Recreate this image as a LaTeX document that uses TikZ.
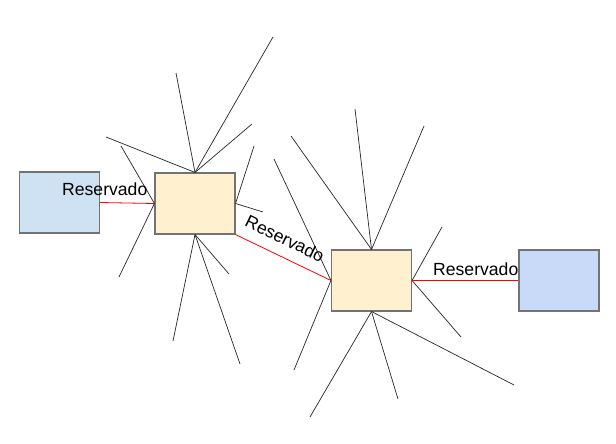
\documentclass[tikz,border=0pt]{standalone}
\usepackage{fontspec}
\setmainfont{Liberation Sans}
\begin{document}
\begin{tikzpicture}[x=1pt,y=-1pt,
  box/.style={draw=black!55,line width=1.1pt,minimum width=80pt,minimum height=61pt,inner sep=0pt},
  spoke/.style={draw=black!85,line width=0.7pt},
  link/.style={draw=red,line width=0.8pt},
  lbl/.style={font=\fontsize{17.6}{20}\selectfont,inner sep=0pt}]
\useasboundingbox (0,0) rectangle (616,444);
\definecolor{lblue}{HTML}{CFE2F3}
\definecolor{rblue}{HTML}{C9DAF8}
\definecolor{yel}{HTML}{FFF0CF}
\node[box,fill=lblue] (L) at (59.5,202.5) {};
\node[box,fill=yel] (A) at (195,203.5) {};
\node[box,fill=yel] (B) at (371.5,280.5) {};
\node[box,fill=rblue] (R) at (559,280.5) {};
% spoke ends around A
\coordinate (a1) at (273,37);
\coordinate (a2) at (176,73);
\coordinate (a3) at (252,124);
\coordinate (a4) at (106,137);
\coordinate (a5) at (121,146);
\coordinate (a6) at (119,277);
\coordinate (a7) at (254,146);
\coordinate (a8) at (263,212);
\coordinate (a9) at (173,341);
\coordinate (a10) at (240,364);
\coordinate (a11) at (229,274);
% spoke ends around B
\coordinate (b1) at (355,109);
\coordinate (b2) at (424,126);
\coordinate (b3) at (291,136);
\coordinate (b4) at (274,159);
\coordinate (b5) at (294,370);
\coordinate (b6) at (442,227);
\coordinate (b7) at (461,337);
\coordinate (b8) at (310,417);
\coordinate (b9) at (398,399);
\coordinate (b10) at (514,385);
\foreach \p in {a1,a2,a3,a4} \draw[spoke] (A.north) -- (\p);
\foreach \p in {a5,a6} \draw[spoke] (A.west) -- (\p);
\foreach \p in {a7,a8} \draw[spoke] (A.east) -- (\p);
\foreach \p in {a9,a10,a11} \draw[spoke] (A.south) -- (\p);
\foreach \p in {b1,b2,b3} \draw[spoke] (B.north) -- (\p);
\foreach \p in {b4,b5} \draw[spoke] (B.west) -- (\p);
\foreach \p in {b6,b7} \draw[spoke] (B.east) -- (\p);
\foreach \p in {b8,b9,b10} \draw[spoke] (B.south) -- (\p);
\draw[link] (L.east) -- (A.west);
\draw[link] (A.south east) -- (B.west);
\draw[link] (B.east) -- (R.west);
\node[lbl,anchor=base west] (t1) at (62,195.5) {Reservado};
\node[lbl,anchor=base west] (t3) at (433,275.5) {Reservado};
\node[lbl,rotate=-26] (t2) at (285,238.5) {Reservado};
\end{tikzpicture}
\end{document}
